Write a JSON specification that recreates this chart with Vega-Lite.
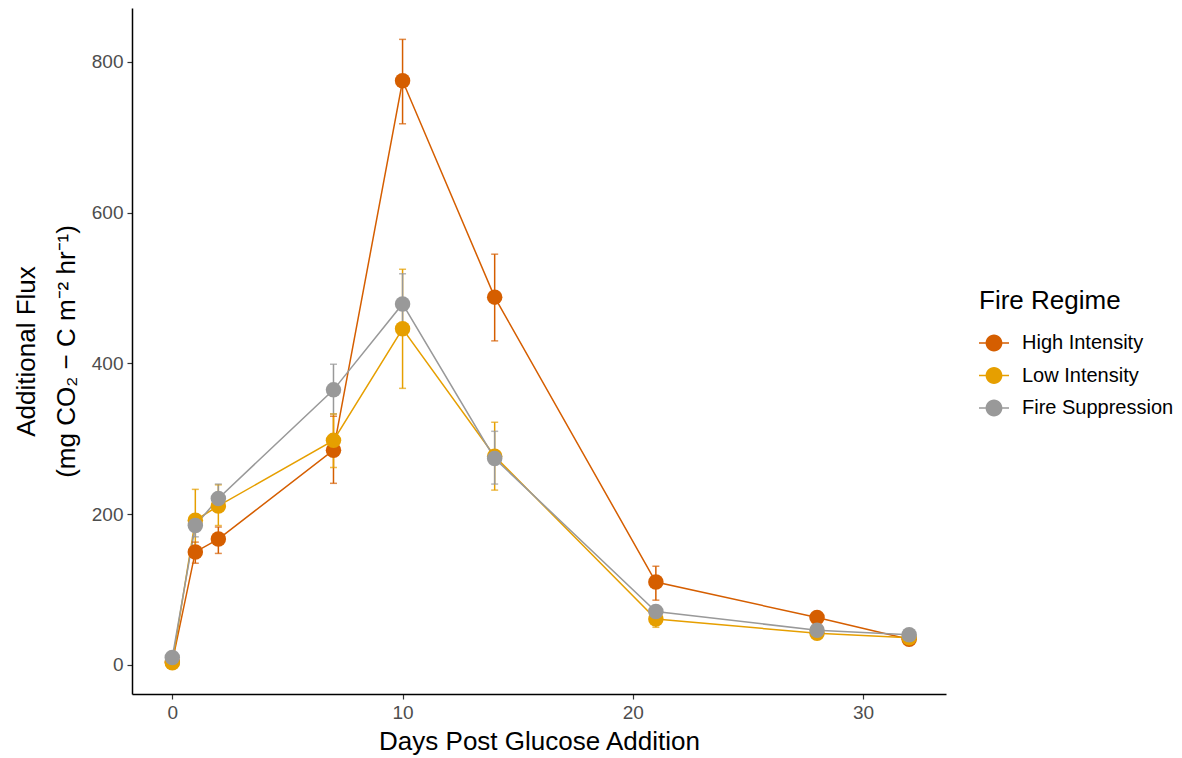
{
  "$schema": "https://vega.github.io/schema/vega-lite/v6.json",
  "width": 814,
  "height": 686,
  "autosize": {"type": "none"},
  "padding": {"left": 132, "top": 8, "right": 236, "bottom": 64},
  "background": "white",
  "config": {
    "view": {"stroke": null},
    "font": "Liberation Sans",
    "axis": {
      "grid": false,
      "domainColor": "black",
      "domainWidth": 1.5,
      "tickColor": "#333333",
      "tickSize": 5,
      "tickWidth": 1.2,
      "labelColor": "#4d4d4d",
      "labelFontSize": 19,
      "labelFont": "Liberation Sans",
      "titleFont": "Liberation Sans",
      "titleFontSize": 26,
      "titleFontWeight": "normal",
      "titleColor": "black"
    },
    "legend": {
      "titleFont": "Liberation Sans",
      "labelFont": "Liberation Sans"
    }
  },
  "data": {
    "values": [
      {"day": 0, "regime": "High Intensity", "flux": 4, "lo": 1, "hi": 7},
      {"day": 1, "regime": "High Intensity", "flux": 150, "lo": 135, "hi": 163},
      {"day": 2, "regime": "High Intensity", "flux": 167, "lo": 148, "hi": 183},
      {"day": 7, "regime": "High Intensity", "flux": 285, "lo": 241, "hi": 330},
      {"day": 10, "regime": "High Intensity", "flux": 775, "lo": 718, "hi": 830},
      {"day": 14, "regime": "High Intensity", "flux": 488, "lo": 430, "hi": 545},
      {"day": 21, "regime": "High Intensity", "flux": 110, "lo": 86, "hi": 131},
      {"day": 28, "regime": "High Intensity", "flux": 63, "lo": 58, "hi": 68},
      {"day": 32, "regime": "High Intensity", "flux": 34, "lo": 31, "hi": 37},
      {"day": 0, "regime": "Low Intensity", "flux": 3, "lo": 0, "hi": 6},
      {"day": 1, "regime": "Low Intensity", "flux": 192, "lo": 150, "hi": 233},
      {"day": 2, "regime": "Low Intensity", "flux": 211, "lo": 185, "hi": 239},
      {"day": 7, "regime": "Low Intensity", "flux": 298, "lo": 262, "hi": 333},
      {"day": 10, "regime": "Low Intensity", "flux": 446, "lo": 367, "hi": 525},
      {"day": 14, "regime": "Low Intensity", "flux": 277, "lo": 232, "hi": 322},
      {"day": 21, "regime": "Low Intensity", "flux": 61, "lo": 50, "hi": 72},
      {"day": 28, "regime": "Low Intensity", "flux": 42, "lo": 38, "hi": 46},
      {"day": 32, "regime": "Low Intensity", "flux": 36, "lo": 33, "hi": 39},
      {"day": 0, "regime": "Fire Suppression", "flux": 10, "lo": 5, "hi": 15},
      {"day": 1, "regime": "Fire Suppression", "flux": 185, "lo": 170, "hi": 200},
      {"day": 2, "regime": "Fire Suppression", "flux": 221, "lo": 203, "hi": 240},
      {"day": 7, "regime": "Fire Suppression", "flux": 365, "lo": 333, "hi": 399},
      {"day": 10, "regime": "Fire Suppression", "flux": 479, "lo": 440, "hi": 519},
      {"day": 14, "regime": "Fire Suppression", "flux": 274, "lo": 240, "hi": 310},
      {"day": 21, "regime": "Fire Suppression", "flux": 71, "lo": 64, "hi": 78},
      {"day": 28, "regime": "Fire Suppression", "flux": 46, "lo": 42, "hi": 50},
      {"day": 32, "regime": "Fire Suppression", "flux": 40, "lo": 36, "hi": 44}
    ]
  },
  "encoding": {
    "x": {
      "field": "day",
      "type": "quantitative",
      "scale": {"domain": [-1.75, 33.6], "nice": false, "zero": false},
      "axis": {
        "values": [0, 10, 20, 30],
        "title": "Days Post Glucose Addition",
        "titlePadding": 6,
        "labelPadding": 4
      }
    },
    "color": {
      "field": "regime",
      "type": "nominal",
      "scale": {
        "domain": ["High Intensity", "Low Intensity", "Fire Suppression"],
        "range": ["#D55E00", "#E69F00", "#999999"]
      },
      "legend": {
        "title": "Fire Regime",
        "orient": "none",
        "legendX": 847,
        "legendY": 280,
        "titleFontSize": 26,
        "titleFontWeight": "normal",
        "titleColor": "black",
        "titlePadding": 14,
        "labelFontSize": 20,
        "labelColor": "black",
        "labelOffset": 13,
        "rowPadding": 7.5,
        "symbolSize": 900,
        "symbolStrokeWidth": 0,
        "symbolOpacity": 1,
        "symbolType": "M-1,-0.045H-0.52V0.045H-1Z M0.52,-0.045H1V0.045H0.52Z M0.56,0A0.56,0.56 0 1 1 -0.56,0A0.56,0.56 0 1 1 0.56,0Z"
      }
    }
  },
  "layer": [
    {
      "mark": {"type": "line", "strokeWidth": 1.5},
      "encoding": {
        "y": {
          "field": "flux",
          "type": "quantitative",
          "scale": {"domain": [-38.5, 871.6], "nice": false, "zero": false},
          "axis": {
            "values": [0, 200, 400, 600, 800],
            "title": ["Additional Flux", "(mg CO₂ − C m⁻² hr⁻¹)"],
            "titleLineHeight": 40,
            "titlePadding": 12,
            "labelPadding": 4
          }
        },
        "detail": {"field": "regime"}
      }
    },
    {
      "mark": {"type": "rule", "strokeWidth": 1.5},
      "encoding": {
        "y": {"field": "lo", "type": "quantitative"},
        "y2": {"field": "hi"}
      }
    },
    {
      "mark": {"type": "tick", "orient": "horizontal", "size": 7, "thickness": 1.5},
      "encoding": {
        "y": {"field": "lo", "type": "quantitative"}
      }
    },
    {
      "mark": {"type": "tick", "orient": "horizontal", "size": 7, "thickness": 1.5},
      "encoding": {
        "y": {"field": "hi", "type": "quantitative"}
      }
    },
    {
      "mark": {"type": "point", "filled": true, "size": 240, "opacity": 1},
      "encoding": {
        "y": {"field": "flux", "type": "quantitative"}
      }
    }
  ]
}
